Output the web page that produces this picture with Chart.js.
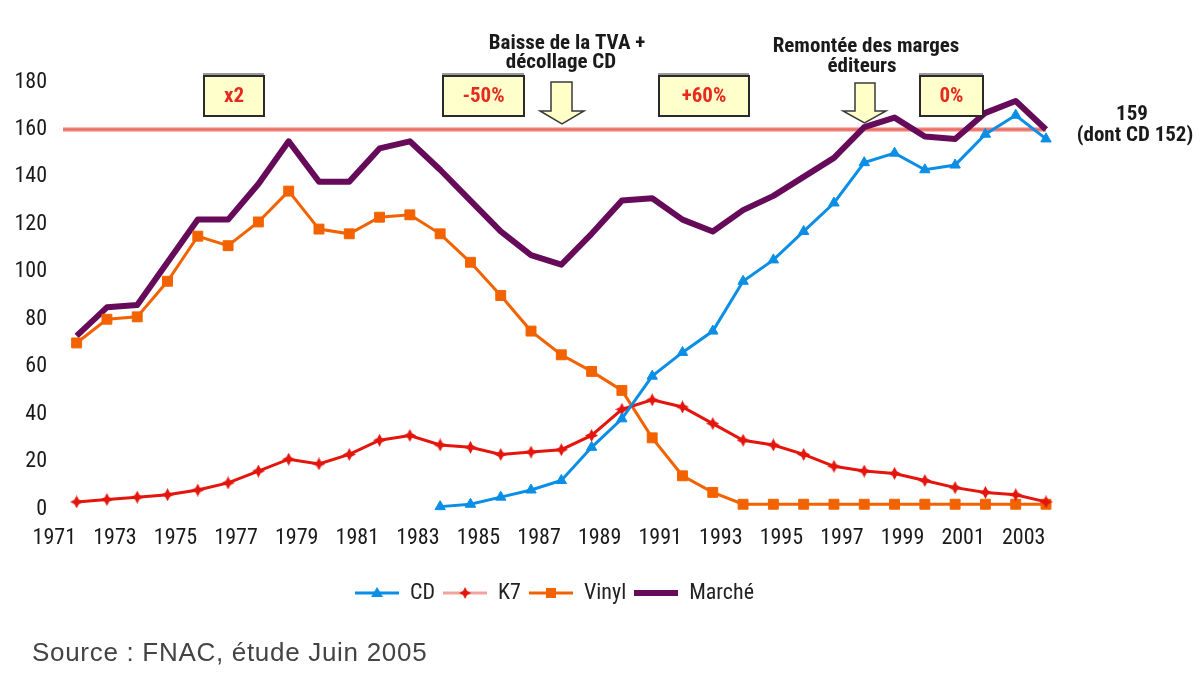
<!DOCTYPE html>
<html><head><meta charset="utf-8">
<script src="https://cdn.jsdelivr.net/npm/chart.js@4.4.1/dist/chart.umd.min.js"></script>
<style>
html,body{margin:0;padding:0;background:#fff;}
#wrap{position:relative;width:1200px;height:675px;overflow:hidden;}
#source{position:absolute;left:32px;top:637px;font:26px/30px "Liberation Sans",Arial,sans-serif;color:#444;letter-spacing:0.7px;white-space:nowrap;}
</style></head><body>
<div id="wrap"><canvas id="c" width="1200" height="675"></canvas><div id="source">Source : FNAC, étude Juin 2005</div></div>
<script>
// ---- data ----
const years = [1972,1973,1974,1975,1976,1977,1978,1979,1980,1981,1982,1983,1984,1985,1986,1987,1988,1989,1990,1991,1992,1993,1994,1995,1996,1997,1998,1999,2000,2001,2002,2003,2004];
const tickYears = [1971,1973,1975,1977,1979,1981,1983,1985,1987,1989,1991,1993,1995,1997,1999,2001,2003];
const cd     = [null,null,null,null,null,null,null,null,null,null,null,null,1,2,5,8,12,26,38,56,66,75,96,105,117,129,146,150,143,145,158,166,156];
const k7     = [3,4,5,6,8,11,16,21,19,23,29,31,27,26,23,24,25,31,42,46,43,36,29,27,23,18,16,15,12,9,7,6,3];
const vinyl  = [70,80,81,96,115,111,121,134,118,116,123,124,116,104,90,75,65,58,50,30,14,7,2,2,2,2,2,2,2,2,2,2,2];
const marche = [73,85,86,104,122,122,137,155,138,138,152,155,143,130,117,107,103,116,130,131,122,117,126,132,140,148,161,165,157,156,167,172,160];
const seriesNames = ['CD','K7','Vinyl','Marché'];
const refLevel = 160;
const endLabel = ['159','(dont CD 152)'];
const boxLabels = ['x2','-50%','+60%','0%'];
const noteTVA = ['Baisse de la TVA +','décollage CD'];
const noteMarges = ['Remontée des marges','éditeurs'];

// ---- styles ----
const FONT = '"Liberation Sans Narrow","Roboto Condensed","DejaVu Sans Condensed",sans-serif';
const C_CD = '#0a8ee6', C_K7 = '#e3150c', C_VI = '#f26300', C_MA = '#660a5a';

function pts(arr){ return years.map((y,i)=>({x:y, y:arr[i]})); }

function starCanvas(color, s){
  const c=document.createElement('canvas'); c.width=s; c.height=s;
  const g=c.getContext('2d'); const m=s/2, a=s*0.17;
  g.fillStyle=color; g.beginPath();
  g.moveTo(m,0); g.lineTo(m+a,m-a); g.lineTo(s,m); g.lineTo(m+a,m+a);
  g.lineTo(m,s); g.lineTo(m-a,m+a); g.lineTo(0,m); g.lineTo(m-a,m-a); g.closePath(); g.fill();
  return c;
}
function legendIcon(lineColor, lineW, marker, markerColor){
  const c=document.createElement('canvas'); c.width=44; c.height=16;
  const g=c.getContext('2d');
  g.strokeStyle=lineColor; g.lineWidth=lineW; g.beginPath(); g.moveTo(0,8); g.lineTo(44,8); g.stroke();
  g.fillStyle=markerColor;
  if(marker==='tri'){ g.beginPath(); g.moveTo(22,2); g.lineTo(28,12); g.lineTo(16,12); g.closePath(); g.fill(); }
  if(marker==='star'){ g.drawImage(starCanvas(markerColor,12),16,2); }
  if(marker==='sq'){ g.fillRect(17,3,10,10); }
  return c;
}
const k7Marker = starCanvas(C_K7, 13);
const legendIcons = [
  legendIcon(C_CD,3,'tri',C_CD),
  legendIcon('#f4a39c',3,'star',C_K7),
  legendIcon(C_VI,3,'sq',C_VI),
  legendIcon(C_MA,6,null,C_MA)
];

const decor = {
  id:'decor',
  beforeDatasetsDraw(chart){
    const {ctx, chartArea:a, scales:{y}} = chart;
    const py = y.getPixelForValue(refLevel);
    ctx.save();
    ctx.strokeStyle='#f8bcb6'; ctx.lineWidth=5;
    ctx.beginPath(); ctx.moveTo(a.left,py); ctx.lineTo(a.right,py); ctx.stroke();
    ctx.strokeStyle='#ec6d62'; ctx.lineWidth=2.5;
    ctx.beginPath(); ctx.moveTo(a.left,py); ctx.lineTo(a.right,py); ctx.stroke();
    ctx.restore();
  },
  afterDraw(chart){
    const ctx = chart.ctx;
    ctx.save();
    function box(x1,y1,x2,y2,t){
      ctx.fillStyle='#9a9a9a'; ctx.fillRect(x1-1,y1-3,x2-x1+1,y2-y1+1);
      ctx.fillStyle='#ffffcc'; ctx.fillRect(x1,y1,x2-x1,y2-y1);
      ctx.strokeStyle='#2a2a2a'; ctx.lineWidth=2; ctx.strokeRect(x1,y1,x2-x1,y2-y1);
      ctx.fillStyle='#e8291e'; ctx.font='bold 21px '+FONT; ctx.textAlign='center'; ctx.textBaseline='middle';
      ctx.fillText(t,(x1+x2)/2,(y1+y2)/2+1);
    }
    function arrow(sx1,sx2,top,hy,hx1,hx2,tip){
      const cx=(hx1+hx2)/2;
      ctx.beginPath();
      ctx.moveTo(sx1,top); ctx.lineTo(sx2,top); ctx.lineTo(sx2,hy); ctx.lineTo(hx2,hy);
      ctx.lineTo(cx,tip); ctx.lineTo(hx1,hy); ctx.lineTo(sx1,hy); ctx.closePath();
      ctx.fillStyle='#ffffc8'; ctx.fill();
      ctx.strokeStyle='#3a3a3a'; ctx.lineWidth=1.5; ctx.stroke();
    }
    box(204,76,264,116,boxLabels[0]);
    box(443,76,524,116,boxLabels[1]);
    box(659,76,749,116,boxLabels[2]);
    box(920,76,983,116,boxLabels[3]);
    arrow(551,572,82,111,540,584,124);
    arrow(855,875,83,111,843,886,123);
    ctx.fillStyle='#1a1a1a'; ctx.textAlign='center'; ctx.textBaseline='middle';
    ctx.font='bold 21px '+FONT;
    ctx.fillText(noteTVA[0],567,44); ctx.fillText(noteTVA[1],561,63);
    ctx.fillText(noteMarges[0],866,47); ctx.fillText(noteMarges[1],862,67);
    ctx.fillText(endLabel[0],1132,115); ctx.fillText(endLabel[1],1135,136);
    ctx.restore();
  }
};

new Chart(document.getElementById('c'), {
  type:'line',
  data:{ datasets:[
    {label:seriesNames[0], data:pts(cd), borderColor:C_CD, backgroundColor:C_CD, borderWidth:3,
     pointStyle:'triangle', pointRadius:6, pointBorderWidth:1, pointBackgroundColor:C_CD, pointBorderColor:C_CD, clip:false},
    {label:seriesNames[1], data:pts(k7), borderColor:C_K7, backgroundColor:C_K7, borderWidth:3,
     pointStyle:k7Marker, clip:false},
    {label:seriesNames[2], data:pts(vinyl), borderColor:C_VI, backgroundColor:C_VI, borderWidth:3,
     pointStyle:'rect', pointRadius:7, pointBorderWidth:1, pointBackgroundColor:C_VI, pointBorderColor:C_VI, clip:false},
    {label:seriesNames[3], data:pts(marche), borderColor:C_MA, backgroundColor:C_MA, borderWidth:6,
     pointRadius:0, borderJoinStyle:'round', clip:false}
  ]},
  options:{
    responsive:false, animation:false, devicePixelRatio:1,
    layout:{padding:{top:82,right:154,bottom:61,left:0}},
    elements:{line:{tension:0}},
    plugins:{
      tooltip:{enabled:false},
      legend:{position:'bottom', fullSize:false,
        labels:{usePointStyle:true, pointStyleWidth:44, padding:8, color:'#222',
          font:{family:FONT,size:22},
          generateLabels(chart){
            const items = Chart.defaults.plugins.legend.labels.generateLabels(chart);
            items.forEach((it,i)=>{ it.pointStyle = legendIcons[i]; });
            return items;
          }}}
    },
    scales:{
      x:{type:'linear', min:1971.55, max:2004,
        grid:{display:false, drawTicks:false}, border:{display:false},
        afterBuildTicks(s){ s.ticks = tickYears.map(v=>({value:v})); },
        afterFit(s){ s.height = 65; },
        ticks:{autoSkip:false, maxRotation:0, padding:16, labelOffset:8, color:'#1a1a1a',
          font:{family:FONT,size:22}, callback:v=>String(v)}},
      y:{min:0, max:180,
        grid:{display:false, drawTicks:false}, border:{display:false},
        afterFit(s){ s.width = 63; },
        ticks:{stepSize:20, padding:16, color:'#1a1a1a', font:{family:FONT,size:22}}}
    }
  },
  plugins:[decor]
});
</script>
</body></html>
